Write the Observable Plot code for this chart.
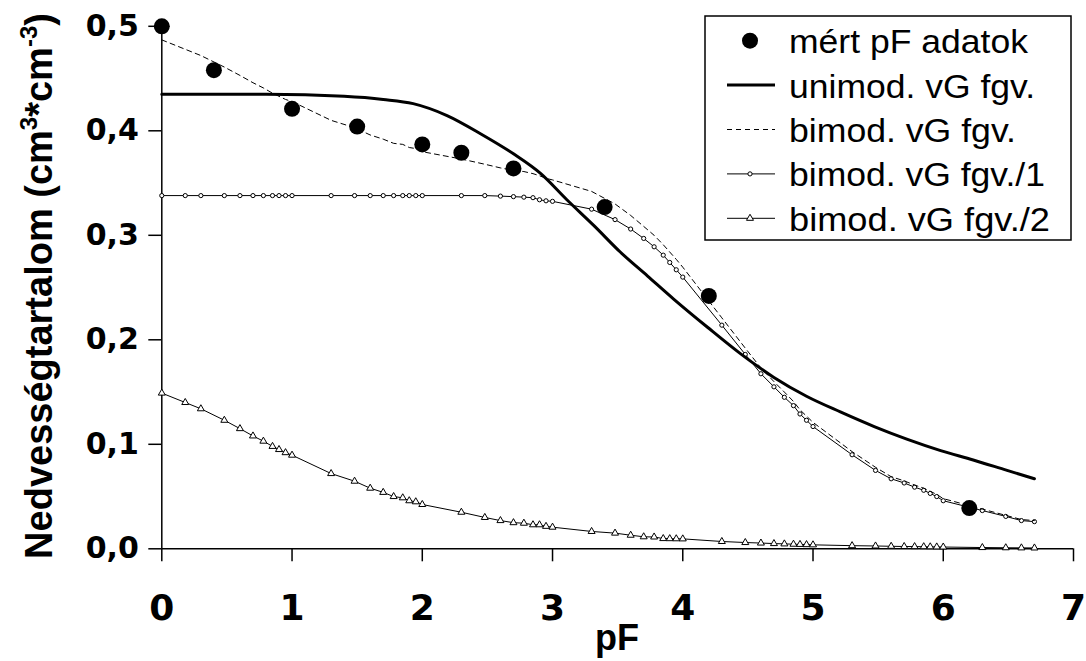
<!DOCTYPE html>
<html><head><meta charset="utf-8">
<script src="https://cdn.jsdelivr.net/npm/d3@7"></script>
<script src="https://cdn.jsdelivr.net/npm/@observablehq/plot@0.6"></script>
<style>html,body{margin:0;padding:0;background:#fff;} #chart{width:1086px;height:661px;overflow:hidden;}</style>
</head><body><div id="chart"></div>
<script>
// pF grid of the bimodal model curves
const pFGrid = [0, 0.18, 0.3, 0.48, 0.6, 0.7, 0.78, 0.85, 0.9, 0.95,
  1, 1.3, 1.48, 1.6, 1.7, 1.78, 1.85, 1.9, 1.95,
  2, 2.3, 2.48, 2.6, 2.7, 2.78, 2.85, 2.9, 2.95,
  3, 3.3, 3.48, 3.6, 3.7, 3.78, 3.85, 3.9, 3.95,
  4, 4.3, 4.48, 4.6, 4.7, 4.78, 4.85, 4.9, 4.95,
  5, 5.3, 5.48, 5.6, 5.7, 5.78, 5.85, 5.9, 5.95,
  6, 6.3, 6.48, 6.6, 6.7];
// bimod. vG fgv./1
const bimod1 = [0.338, 0.338, 0.338, 0.338, 0.338, 0.338, 0.338, 0.338, 0.338, 0.338,
  0.338, 0.338, 0.338, 0.338, 0.338, 0.338, 0.338, 0.338, 0.338,
  0.338, 0.338, 0.338, 0.3375, 0.337, 0.3365, 0.336, 0.334, 0.333,
  0.3325, 0.325, 0.315, 0.306, 0.297, 0.289, 0.281, 0.274, 0.267,
  0.260, 0.214, 0.186, 0.1675, 0.155, 0.145, 0.137, 0.129, 0.123,
  0.117, 0.090, 0.075, 0.067, 0.063, 0.059, 0.056, 0.053, 0.050,
  0.046, 0.0366, 0.031, 0.027, 0.026];
// bimod. vG fgv./2
const bimod2 = [0.149, 0.140, 0.134, 0.123, 0.115, 0.108, 0.103, 0.098, 0.095, 0.092,
  0.0896, 0.072, 0.0647, 0.058, 0.054, 0.050, 0.0488, 0.046, 0.045,
  0.0424, 0.035, 0.030, 0.027, 0.025, 0.0245, 0.023, 0.023, 0.0215,
  0.0207, 0.0166, 0.015, 0.013, 0.0115, 0.0113, 0.0098, 0.0097, 0.0096,
  0.0095, 0.007, 0.006, 0.0055, 0.005, 0.0047, 0.0044, 0.0042, 0.004,
  0.0038, 0.003, 0.0027, 0.0024, 0.0022, 0.0021, 0.002, 0.0019, 0.0018,
  0.0017, 0.0012, 0.001, 0.0009, 0.0008];
// bimod. vG fgv. (total)
const bimodTotal = [0.487, 0.478, 0.472, 0.461, 0.453, 0.446, 0.441, 0.436, 0.433, 0.430,
  0.428, 0.410, 0.403, 0.396, 0.392, 0.388, 0.387, 0.384, 0.383,
  0.380, 0.373, 0.368, 0.3645, 0.362, 0.361, 0.359, 0.357, 0.3545,
  0.353, 0.342, 0.330, 0.319, 0.3085, 0.300, 0.291, 0.284, 0.277,
  0.2695, 0.221, 0.192, 0.173, 0.160, 0.150, 0.141, 0.133, 0.127,
  0.121, 0.093, 0.078, 0.069, 0.065, 0.061, 0.058, 0.055, 0.052,
  0.048, 0.038, 0.032, 0.028, 0.027];
// unimod. vG fgv.
const uniPF = [0, 0.8, 1.4, 1.7, 1.93, 2.19, 2.45, 2.7, 2.91, 3.11, 3.32, 3.52, 3.73, 3.93, 4.19, 4.44, 4.70, 4.95, 5.21, 5.47, 5.72, 5.98, 6.23, 6.49, 6.7];
const uniTheta = [0.435, 0.435, 0.433, 0.430, 0.426, 0.4146, 0.397, 0.378, 0.359, 0.334, 0.309, 0.284, 0.261, 0.239, 0.212, 0.187, 0.164, 0.146, 0.131, 0.117, 0.105, 0.094, 0.085, 0.075, 0.067];
// mért pF adatok
const measPF = [0, 0.4, 1.0, 1.5, 2.0, 2.3, 2.7, 3.4, 4.2, 6.2];
const measTheta = [0.500, 0.458, 0.421, 0.404, 0.387, 0.379, 0.364, 0.327, 0.242, 0.039];

const xTicks = [0, 1, 2, 3, 4, 5, 6, 7];
const yTicks = [0, 0.1, 0.2, 0.3, 0.4, 0.5];
const legendLabels = ["mért pF adatok", "unimod. vG fgv.", "bimod. vG fgv.", "bimod. vG fgv./1", "bimod. vG fgv./2"];
const xTitle = "pF";
const yTitleParts = ["Nedvességtartalom (cm", "3", "*cm", "-3", ")"];

const grid = pFGrid.map((x, i) => ({pF: x, t1: bimod1[i], t2: bimod2[i], ts: bimodTotal[i]}));
const uni = uniPF.map((x, i) => ({pF: x, t: uniTheta[i]}));
const meas = measPF.map((x, i) => ({pF: x, t: measTheta[i]}));
const fmt = v => d3.format(".1f")(v).replace(".", ",");

const chart = Plot.plot({
  width: 1086, height: 661,
  marginLeft: 161.3, marginRight: 13, marginTop: 25.8, marginBottom: 112.7,
  x: {domain: [0, 7]},
  y: {domain: [0, 0.5]},
  style: {background: "#fff", color: "#000", overflow: "visible"},
  marks: [
    Plot.axisY(yTicks, {tickSize: 13, tickPadding: 10, tickFormat: fmt, fontSize: 30, fontWeight: "bold", fontFamily: "DejaVu Sans", label: null, strokeWidth: 1.5}),
    Plot.axisX(xTicks, {tickSize: 13, tickPadding: 33, tickFormat: d => String(d), fontSize: 36, fontWeight: "bold", fontFamily: "DejaVu Sans", label: null, strokeWidth: 1.5}),
    Plot.ruleX([0], {strokeWidth: 1.5}),
    Plot.ruleY([0], {strokeWidth: 1.5}),
    Plot.line(grid, {x: "pF", y: "t2", stroke: "#000", strokeWidth: 1}),
    Plot.dot(grid, {x: "pF", y: "t2", symbol: "triangle", r: 2.6, fill: "white", stroke: "#000", strokeWidth: 1}),
    Plot.line(grid, {x: "pF", y: "t1", stroke: "#000", strokeWidth: 1}),
    Plot.dot(grid, {x: "pF", y: "t1", symbol: "circle", r: 2.1, fill: "white", stroke: "#000", strokeWidth: 1}),
    Plot.line(grid, {x: "pF", y: "ts", stroke: "#000", strokeWidth: 1, strokeDasharray: "5,4"}),
    Plot.line(uni, {x: "pF", y: "t", stroke: "#000", strokeWidth: 3, curve: "monotone-x"}),
    Plot.dot(meas, {x: "pF", y: "t", r: 8, fill: "#000", stroke: "none"})
  ]
});
document.getElementById("chart").appendChild(chart);

const svg = d3.select(chart);
// y axis title
const yt = svg.append("text")
  .attr("transform", "translate(51.5,286) rotate(-90)")
  .attr("text-anchor", "middle")
  .attr("font-family", "Liberation Sans, Arial, sans-serif")
  .attr("font-weight", "bold").attr("font-size", 38).attr("fill", "#000");
yt.append("tspan").text(yTitleParts[0]);
yt.append("tspan").attr("dy", -15).attr("font-size", 24).text(yTitleParts[1]);
yt.append("tspan").attr("dy", 15).text(yTitleParts[2]);
yt.append("tspan").attr("dy", -15).attr("font-size", 24).text(yTitleParts[3]);
yt.append("tspan").attr("dy", 15).text(yTitleParts[4]);
// x axis title
svg.append("text").attr("x", 617).attr("y", 650).attr("text-anchor", "middle")
  .attr("font-family", "Liberation Sans, Arial, sans-serif")
  .attr("font-weight", "bold").attr("font-size", 36).attr("fill", "#000").text(xTitle);

// legend
const lg = svg.append("g");
lg.append("rect").attr("x", 705).attr("y", 16).attr("width", 366).attr("height", 224)
  .attr("fill", "white").attr("stroke", "#000").attr("stroke-width", 1.5);
const rowY = i => 40.7 + i * 44.4;
const textLen = [239, 246, 227, 256, 261];
legendLabels.forEach((lab, i) => {
  lg.append("text").attr("x", 789).attr("y", rowY(i) + 12.5)
    .attr("text-anchor", "start")
    .attr("font-family", "Liberation Sans, Arial, sans-serif").attr("font-size", 34)
    .attr("textLength", textLen[i]).attr("lengthAdjust", "spacingAndGlyphs")
    .attr("fill", "#000").text(lab);
});
const sx0 = 727, sx1 = 775, sxc = 750;
lg.append("circle").attr("cx", sxc).attr("cy", rowY(0)).attr("r", 8).attr("fill", "#000");
lg.append("line").attr("x1", sx0).attr("x2", sx1).attr("y1", rowY(1)).attr("y2", rowY(1)).attr("stroke", "#000").attr("stroke-width", 3);
lg.append("line").attr("x1", sx0).attr("x2", sx1).attr("y1", rowY(2)).attr("y2", rowY(2)).attr("stroke", "#000").attr("stroke-width", 1).attr("stroke-dasharray", "5,4");
lg.append("line").attr("x1", sx0).attr("x2", sx1).attr("y1", rowY(3)).attr("y2", rowY(3)).attr("stroke", "#000").attr("stroke-width", 1);
lg.append("circle").attr("cx", sxc).attr("cy", rowY(3)).attr("r", 2.1).attr("fill", "white").attr("stroke", "#000");
lg.append("line").attr("x1", sx0).attr("x2", sx1).attr("y1", rowY(4)).attr("y2", rowY(4)).attr("stroke", "#000").attr("stroke-width", 1);
lg.append("path").attr("d", d3.symbol(d3.symbolTriangle, Math.PI * 2.6 * 2.6)()).attr("transform", `translate(${sxc},${rowY(4)})`)
  .attr("fill", "white").attr("stroke", "#000");
</script>
</body></html>
